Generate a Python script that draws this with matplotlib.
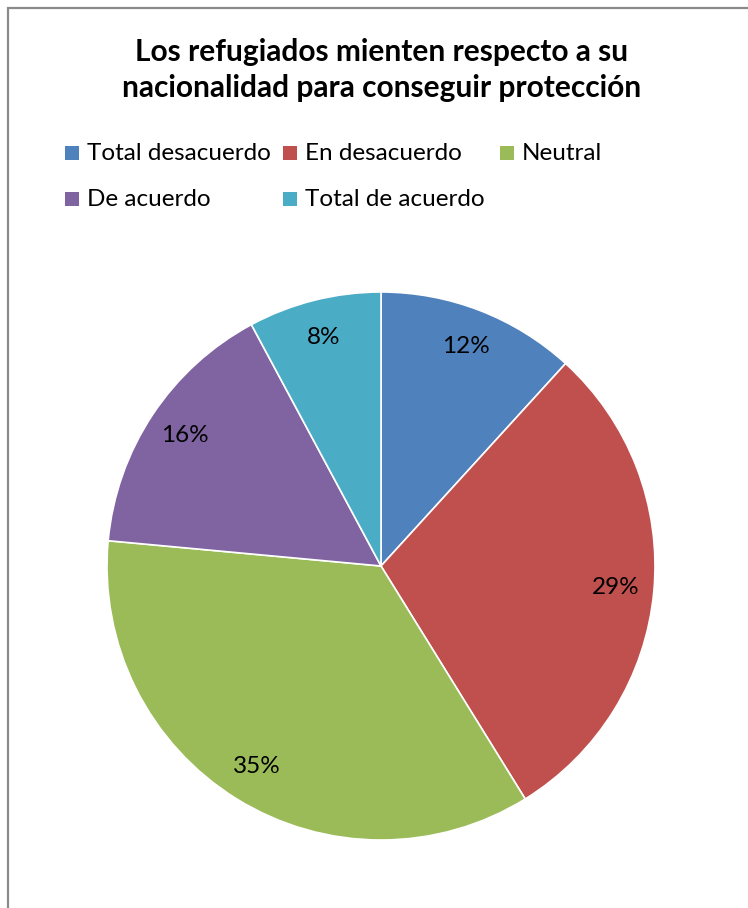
import matplotlib
matplotlib.use("Agg")
import matplotlib.pyplot as plt
from matplotlib.patches import Rectangle

categories = ["Total desacuerdo", "En desacuerdo", "Neutral", "De acuerdo", "Total de acuerdo"]
counts = [6, 15, 18, 8, 4]
colors = ["#4F81BD", "#C0504D", "#9BBB59", "#8064A2", "#4BACC6"]
title = "Los refugiados mienten respecto a su\nnacionalidad para conseguir protección"

W, H = 748, 908
fig = plt.figure(figsize=(W / 100, H / 100), dpi=100)
plt.rcParams['font.family'] = ['Lato', 'DejaVu Sans']

# outer border (clipped at right/bottom like the reference)
fig.patches.append(Rectangle((8 / W, -0.05), 1.1, 1 - 8 / H + 0.05, transform=fig.transFigure,
                             fill=False, edgecolor="#8a8a8a", linewidth=1.6))

fig.text(382 / W, 1 - 70 / H, title, ha="center", va="center", fontsize=21.5,
         fontweight="bold", linespacing=1.38)

# legend (row-wise like the reference)
pos = [(65, 153), (283, 153), (500, 153), (65, 199), (283, 199)]
for (x, y), lab, c in zip(pos, categories, colors):
    fig.patches.append(Rectangle((x / W, 1 - (y + 7) / H), 14 / W, 14 / H,
                                 transform=fig.transFigure, facecolor=c, edgecolor="none"))
    fig.text((x + 22) / W, 1 - y / H, lab, ha="left", va="center", fontsize=17.5)

R = 274
cx, cy = 381, 566
ax = fig.add_axes([(cx - R) / W, 1 - (cy + R) / H, 2 * R / W, 2 * R / H])
wedges, texts, autotexts = ax.pie(counts, colors=colors, startangle=90, counterclock=False,
                                  autopct=lambda p: f"{p:.0f}%", pctdistance=0.86,
                                  wedgeprops=dict(edgecolor="white", linewidth=1.2),
                                  textprops=dict(fontsize=17.5), radius=1.0)
ax.set_xlim(-1, 1)
ax.set_ylim(-1, 1)
ax.set_aspect("equal")
ax.axis("off")

fig.savefig("out.png", dpi=100)
